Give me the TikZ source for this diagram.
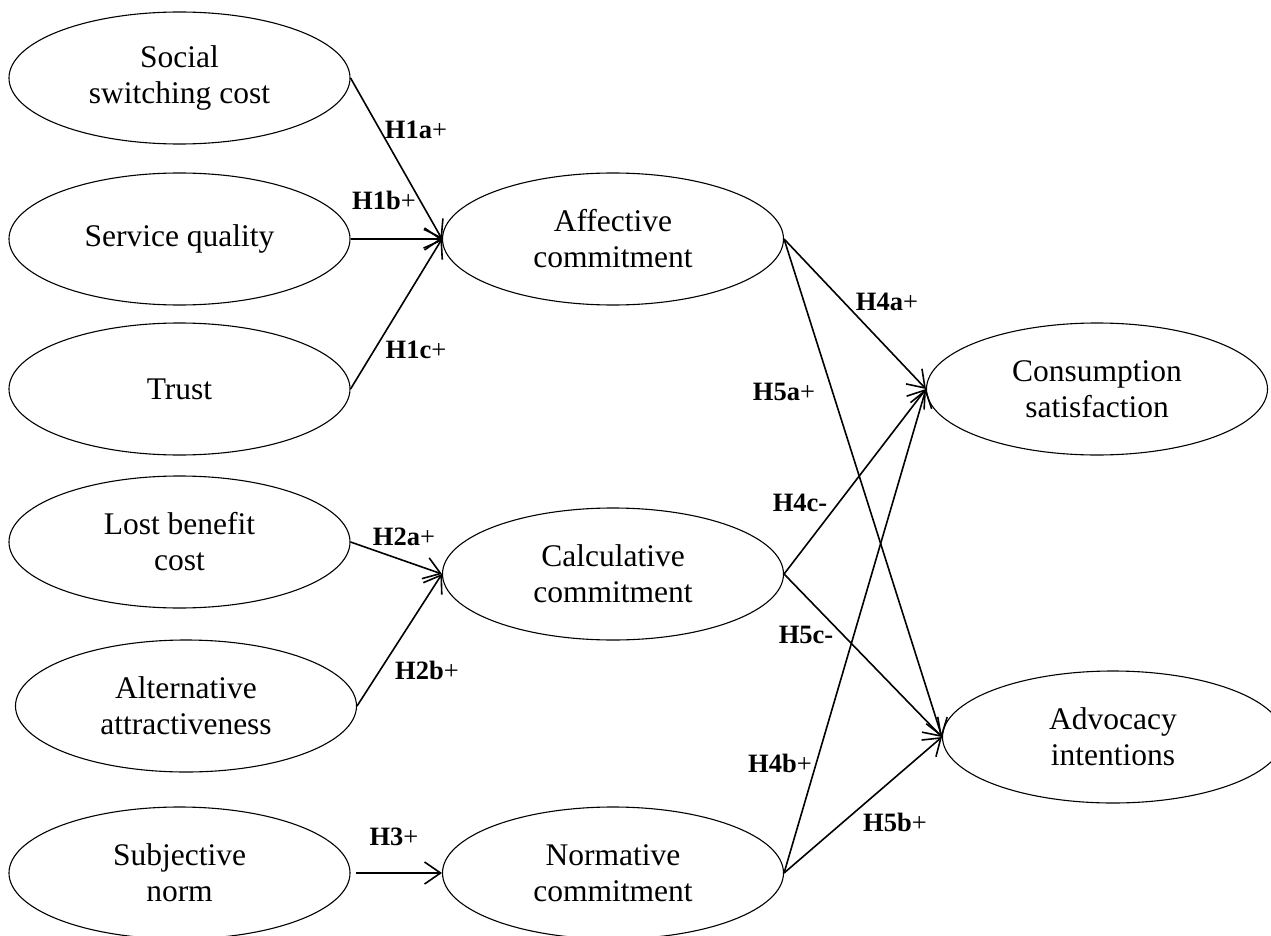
\documentclass[tikz,border=0pt]{standalone}
\usepackage{fontspec}
\setmainfont{Liberation Serif}
\usetikzlibrary{shapes.geometric,arrows.meta}

\begin{document}
\begin{tikzpicture}[x=1pt,y=-1pt,
    construct/.style={draw,ellipse,line width=1.1pt,minimum width=341pt,
      minimum height=132pt,inner sep=0pt,align=center,
      font=\fontsize{31.5}{36}\selectfont},
    hyp/.style={inner sep=0pt,font=\fontsize{26.5}{30}\selectfont},
    link/.style={line width=1.6pt,
      -{Straight Barb[length=16pt,width=22pt,line width=1.6pt]}}]
    \useasboundingbox (0,0) rectangle (1271,936);% page = reference frame
    % antecedents
    \node[construct] (ssc) at (179.5,78) {Social\\switching cost};
    \node[construct] (sq) at (179.5,239) {Service quality};
    \node[construct] (tr) at (179.5,389) {Trust};
    \node[construct] (lbc) at (179.5,542) {Lost benefit\\cost};
    \node[construct] (aa) at (186,706) {Alternative\\attractiveness};
    \node[construct] (sn) at (179.5,873) {Subjective\\norm};
    % commitment types
    \node[construct] (ac) at (613,239) {Affective\\commitment};
    \node[construct] (cc) at (613,574) {Calculative\\commitment};
    \node[construct] (nc) at (613,873) {Normative\\commitment};
    % outcomes
    \node[construct] (cs) at (1097,389) {Consumption\\satisfaction};
    \node[construct] (ai) at (1113,737) {Advocacy\\intentions};
    % paths into the commitments
    \draw[link] (ssc.east) -- (ac.west);
    \draw[link] (sq.east) -- (ac.west);
    \draw[link] (tr.east) -- (ac.west);
    \draw[link] (lbc.east) -- (cc.west);
    \draw[link] (aa.east) -- (cc.west);
    \draw[link,shorten <=5pt] (sn.east) -- (nc.west);
    % paths into the outcomes
    \foreach \c in {ac,cc,nc}{% each commitment feeds both outcomes
      \draw[link] (\c.east) -- (cs.west);
      \draw[link] (\c.east) -- (ai.west);}
    % hypothesis labels
    \node[hyp] (h1a) at (416,130) {\textbf{H1a}+};
    \node[hyp] (h1b) at (384,200) {\textbf{H1b}+};
    \node[hyp] (h1c) at (416,350) {\textbf{H1c}+};
    \node[hyp] (h2a) at (404,537) {\textbf{H2a}+};
    \node[hyp] (h2b) at (427,670) {\textbf{H2b}+};
    \node[hyp] (h3) at (394,837) {\textbf{H3}+};
    \node[hyp] (h4a) at (887,302) {\textbf{H4a}+};
    \node[hyp] (h5a) at (784,392) {\textbf{H5a}+};
    \node[hyp] (h4c) at (800,503) {\textbf{H4c-}};
    \node[hyp] (h5c) at (806,635) {\textbf{H5c-}};
    \node[hyp] (h4b) at (780,763) {\textbf{H4b}+};
    \node[hyp] (h5b) at (895,822) {\textbf{H5b}+};
\end{tikzpicture}
\end{document}
